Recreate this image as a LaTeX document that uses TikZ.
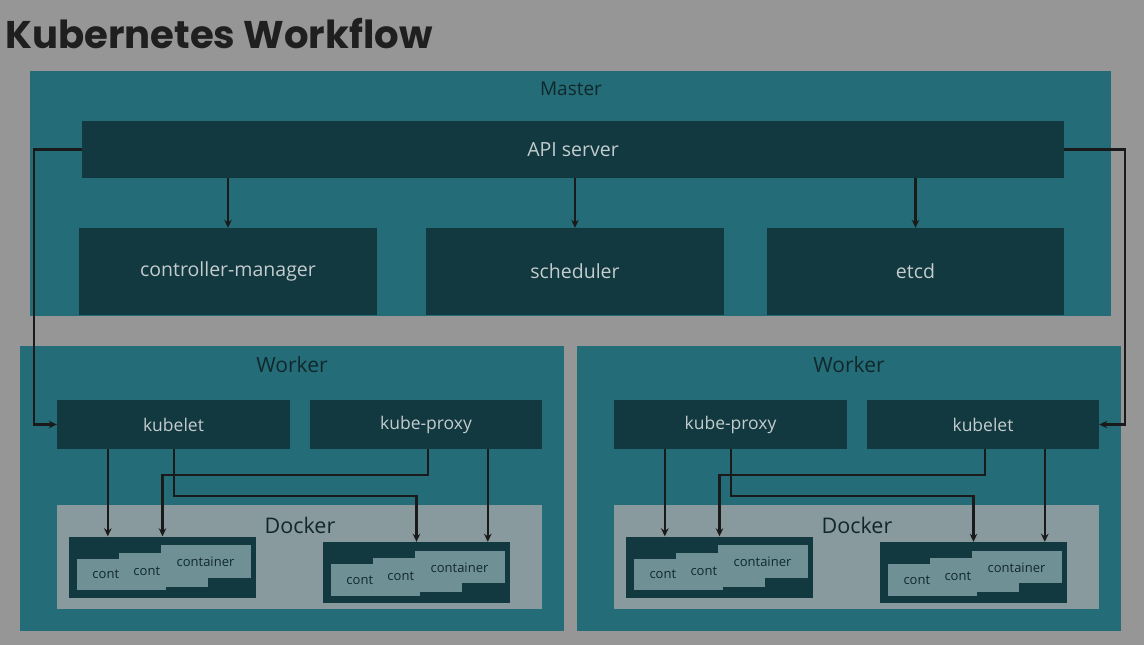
\documentclass[tikz,border=0pt]{standalone}
\usepackage{fontspec}
\setmainfont{Open Sans}
\newfontfamily\titlefont{Poppins}
\usetikzlibrary{arrows.meta,calc}
\definecolor{bgc}{HTML}{969696}
\definecolor{teal}{HTML}{246C77}
\definecolor{darkc}{HTML}{12393F}
\definecolor{dockc}{HTML}{889A9D}
\definecolor{lightc}{HTML}{6F9196}
\definecolor{linec}{HTML}{1A1A1A}
\definecolor{txtlight}{HTML}{C3CCCE}
\definecolor{txtdark}{HTML}{10282C}
\tikzset{
  panel/.style={fill=teal, draw=none, inner sep=0pt},
  darkbox/.style={fill=darkc, draw=none, inner sep=0pt, text=txtlight, font=\fontsize{19.5}{21}\selectfont},
  smalldark/.style={darkbox, minimum width=233pt, minimum height=49pt, font=\fontsize{17.5}{19}\selectfont},
  dockbox/.style={fill=dockc, draw=none, inner sep=0pt, minimum width=485pt, minimum height=104pt},
  grp/.style={fill=darkc, draw=none, inner sep=0pt, minimum width=187pt, minimum height=61pt},
  lbl/.style={text=txtdark, inner sep=0pt, font=\fontsize{21}{23}\selectfont},
  ctext/.style={text=txtdark, inner sep=0pt, font=\fontsize{13}{14}\selectfont},
  arr/.style={draw=linec, line width=2.4pt, -{Stealth[length=8pt,width=7.5pt]}},
}
\newcommand{\contstack}[1]{%
  \fill[lightc] ([shift={(7.7,22.3)}]#1.north west) rectangle ([shift={(97,54)}]#1.north west);
  \fill[lightc] ([shift={(50,16.3)}]#1.north west) rectangle ([shift={(139.3,50.3)}]#1.north west);
  \fill[lightc] ([shift={(92,9)}]#1.north west) rectangle ([shift={(181.7,41.3)}]#1.north west);
  \node[ctext] (#1ta) at ([shift={(37,38)}]#1.north west) {cont};
  \node[ctext] (#1tb) at ([shift={(78,34.7)}]#1.north west) {cont};
  \node[ctext] (#1tc) at ([shift={(136.7,25.7)}]#1.north west) {container};
}
\newcommand{\workerpanel}[3]{%
  \node[panel, minimum width=544pt, minimum height=285pt] (#1w) at (292,488.5) {};
  \node[lbl] (#1wl) at (292,365) {Worker};
  \node[smalldark] (#1a) at (173.5,424.5) {#2};
  \node[smalldark, minimum width=232pt] (#1b) at (426,424.5) {#3};
  \node[dockbox] (#1d) at (299.5,557) {};
  \node[lbl, font=\fontsize{21.5}{23}\selectfont] (#1dl) at (300,525) {Docker};
  \node[grp] (#1g1) at (162.5,567) {};
  \node[grp] (#1g2) at (416.5,572.5) {};
  \contstack{#1g1}
  \contstack{#1g2}
  \draw[arr] ([xshift=51pt]#1a.south west) coordinate (#1p1) -- (#1p1 |- #1g1.north);
  \draw[arr] ([xshift=117pt]#1a.south west) -- ++(0,47) -| (#1g2.north);
  \draw[arr] ([xshift=118pt]#1b.south west) -- ++(0,25.5) -| (#1g1.north);
  \draw[arr] ([xshift=178pt]#1b.south west) coordinate (#1p4) -- (#1p4 |- #1g2.north);
}
\begin{document}
\begin{tikzpicture}[x=1pt,y=-1pt]
\useasboundingbox (0,0) rectangle (1144,645);
\fill[bgc] (0,0) rectangle (1144,645);
\node[anchor=base west, inner sep=0pt, text=black!88] (title) at (5,48) {\titlefont\bfseries\fontsize{38.6}{42}\selectfont Kubernetes Workflow};
% Master
\node[panel, minimum width=1081pt, minimum height=245pt] (master) at (570.5,193.5) {};
\node[lbl, font=\fontsize{19}{21}\selectfont] (masterl) at (571,89) {Master};
\node[darkbox, minimum width=982pt, minimum height=57pt] (api) at (573,149.5) {API server};
\node[darkbox, minimum width=298pt, minimum height=87pt] (cm) at (228,271.5) {controller-manager};
\node[darkbox, minimum width=298pt, minimum height=87pt] (sch) at (575,271.5) {scheduler};
\node[darkbox, minimum width=297pt, minimum height=87pt] (etcd) at (915.5,271.5) {etcd};
\draw[arr] (api.south -| cm.north) -- (cm.north);
\draw[arr] (api.south -| sch.north) -- (sch.north);
\draw[arr] (api.south -| etcd.north) -- (etcd.north);
% Workers
\workerpanel{L}{kubelet}{kube-proxy}
\begin{scope}[xshift=557pt]
\workerpanel{R}{kube-proxy}{kubelet}
\end{scope}
\draw[arr] (api.west) -- ++(-48,0) |- (La.west);
\draw[arr] (api.east) -- ++(61,0) |- (Rb.east);
\end{tikzpicture}
\end{document}
